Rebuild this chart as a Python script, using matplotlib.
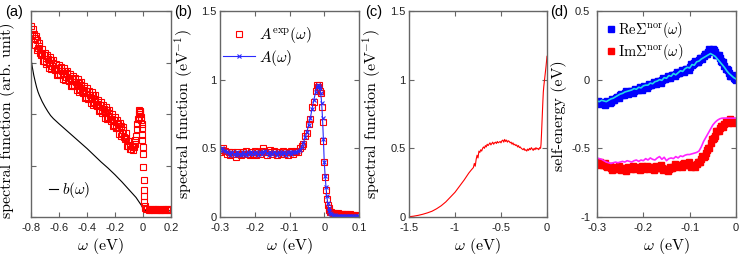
"""四联图：实验谱函数、拟合谱函数与自能 (a)-(d)。"""
from __future__ import annotations

import matplotlib
matplotlib.use("Agg")
import matplotlib.pyplot as plt
from matplotlib.lines import Line2D

# ---------------- (a) 实验谱 + b(ω) ----------------
A_EXP_X = [
    -0.80, -0.79, -0.78, -0.77, -0.76, -0.75, -0.74, -0.73, -0.72, -0.71,
    -0.70, -0.69, -0.68, -0.67, -0.66, -0.65, -0.64, -0.63, -0.62, -0.61,
    -0.60, -0.59, -0.58, -0.57, -0.56, -0.55, -0.54, -0.53, -0.52, -0.51,
    -0.50, -0.49, -0.48, -0.47, -0.46, -0.45, -0.44, -0.43, -0.42, -0.41,
    -0.40, -0.39, -0.38, -0.37, -0.36, -0.35, -0.34, -0.33, -0.32, -0.31,
    -0.30, -0.29, -0.28, -0.27, -0.26, -0.25, -0.24, -0.23, -0.22, -0.21,
    -0.20, -0.19, -0.18, -0.17, -0.16, -0.15, -0.14, -0.13, -0.12, -0.11,
    -0.10, -0.09, -0.08, -0.07,
    -0.065, -0.06, -0.055, -0.05, -0.045, -0.04, -0.035, -0.03, -0.025, -0.02,
    -0.015, -0.01, -0.008, -0.006, -0.004, -0.002, 0.0, 0.002, 0.004, 0.006,
    0.008, 0.010, 0.013, 0.016, 0.020,
    0.03, 0.04, 0.05, 0.06, 0.07, 0.08, 0.09, 0.10, 0.11, 0.12,
    0.13, 0.14, 0.15, 0.16, 0.17, 0.18, 0.19, 0.20,
]
A_EXP_Y = [
    3.70, 3.52, 3.56, 3.34, 3.44, 3.28, 3.37, 3.14, 3.17, 3.03,
    3.19, 2.98, 3.06, 2.89, 3.05, 2.93, 3.05, 2.85, 2.90, 2.78,
    2.95, 2.75, 2.84, 2.68, 2.84, 2.72, 2.84, 2.64, 2.69, 2.57,
    2.74, 2.54, 2.62, 2.46, 2.61, 2.49, 2.62, 2.41, 2.46, 2.33,
    2.50, 2.29, 2.37, 2.21, 2.36, 2.23, 2.36, 2.15, 2.19, 2.07,
    2.23, 2.02, 2.10, 1.93, 2.08, 1.95, 2.08, 1.87, 1.91, 1.78,
    1.94, 1.72, 1.80, 1.62, 1.77, 1.63, 1.74, 1.51, 1.53, 1.38,
    1.48, 1.33, 1.38, 1.30,
    1.36, 1.42, 1.50, 1.58, 1.70, 1.80, 1.90, 2.00, 2.06, 2.03,
    1.95, 1.80, 1.72, 1.60, 1.49, 1.35, 1.22, 0.98, 0.72, 0.53,
    0.40, 0.30, 0.22, 0.18, 0.16,
    0.15, 0.13, 0.16, 0.14, 0.15, 0.13, 0.15, 0.14, 0.16, 0.14,
    0.13, 0.15, 0.14, 0.16, 0.13, 0.15, 0.14, 0.15,
]
# 同一组数据的中间点（使条带更致密）
A_EXP_X2 = [
    -0.795, -0.785, -0.775, -0.765, -0.755, -0.745, -0.735, -0.725, -0.715, -0.705,
    -0.695, -0.685, -0.675, -0.665, -0.655, -0.645, -0.635, -0.625, -0.615, -0.605,
    -0.595, -0.585, -0.575, -0.565, -0.555, -0.545, -0.535, -0.525, -0.515, -0.505,
    -0.495, -0.485, -0.475, -0.465, -0.455, -0.445, -0.435, -0.425, -0.415, -0.405,
    -0.395, -0.385, -0.375, -0.365, -0.355, -0.345, -0.335, -0.325, -0.315, -0.305,
    -0.295, -0.285, -0.275, -0.265, -0.255, -0.245, -0.235, -0.225, -0.215, -0.205,
    -0.195, -0.185, -0.175, -0.165, -0.155, -0.145, -0.135, -0.125, -0.115, -0.105,
    -0.095, -0.085, -0.075, -0.032, -0.028, -0.022, -0.012,
]
A_EXP_Y2 = [
    3.56, 3.65, 3.47, 3.52, 3.24, 3.33, 3.18, 3.26, 3.02, 3.14,
    3.01, 3.14, 3.00, 3.10, 2.87, 3.00, 2.87, 2.98, 2.76, 2.89,
    2.77, 2.91, 2.78, 2.89, 2.66, 2.79, 2.66, 2.77, 2.55, 2.68,
    2.56, 2.70, 2.56, 2.67, 2.43, 2.56, 2.44, 2.54, 2.32, 2.44,
    2.32, 2.45, 2.31, 2.42, 2.18, 2.30, 2.18, 2.28, 2.05, 2.18,
    2.05, 2.18, 2.04, 2.14, 1.90, 2.02, 1.90, 2.00, 1.77, 1.89,
    1.75, 1.88, 1.73, 1.83, 1.58, 1.69, 1.55, 1.63, 1.38, 1.48,
    1.40, 1.33, 1.36, 1.95, 2.08, 2.00, 1.88,
]
BG_X = [-0.80, -0.79, -0.78, -0.77, -0.76, -0.75, -0.74, -0.72, -0.70, -0.68,
        -0.66, -0.64, -0.62, -0.60, -0.55, -0.50, -0.45, -0.40, -0.35, -0.30,
        -0.25, -0.20, -0.15, -0.10, -0.05, -0.03, -0.01, 0.00, 0.01, 0.02, 0.20]
BG_Y = [3.07, 2.90, 2.75, 2.63, 2.52, 2.43, 2.36, 2.24, 2.14, 2.05,
        1.97, 1.91, 1.86, 1.81, 1.69, 1.57, 1.45, 1.33, 1.20, 1.07,
        0.95, 0.82, 0.68, 0.53, 0.38, 0.30, 0.22, 0.16, 0.13, 0.12, 0.12]

# ---------------- (b) A_exp 与 A(ω) ----------------
B_X = [
    -0.300, -0.295, -0.290, -0.285, -0.280, -0.275, -0.270, -0.265, -0.260, -0.255,
    -0.250, -0.245, -0.240, -0.235, -0.230, -0.225, -0.220, -0.215, -0.210, -0.205,
    -0.200, -0.195, -0.190, -0.185, -0.180, -0.175, -0.170, -0.165, -0.160, -0.155,
    -0.150, -0.145, -0.140, -0.135, -0.130, -0.125, -0.120, -0.115, -0.110, -0.105,
    -0.100, -0.095, -0.090, -0.085, -0.080, -0.075, -0.070, -0.065, -0.060, -0.055,
    -0.050, -0.045, -0.040, -0.035, -0.030, -0.025, -0.020,
    -0.0175, -0.015, -0.0125, -0.010, -0.0075, -0.005, -0.0025, 0.0,
    0.0025, 0.005, 0.0075, 0.010, 0.0125, 0.015, 0.0175, 0.020,
    0.025, 0.030, 0.035, 0.040, 0.045, 0.050, 0.055, 0.060,
    0.065, 0.070, 0.075, 0.080, 0.085, 0.090, 0.095, 0.100,
]
B_EXP_Y = [
    0.47, 0.49, 0.50, 0.48, 0.46, 0.47, 0.45, 0.47, 0.46, 0.44,
    0.47, 0.46, 0.45, 0.47, 0.46, 0.48, 0.46, 0.45, 0.47, 0.46,
    0.48, 0.45, 0.47, 0.46, 0.48, 0.50, 0.47, 0.45, 0.47, 0.49,
    0.46, 0.48, 0.47, 0.45, 0.47, 0.46, 0.48, 0.46, 0.47, 0.45,
    0.47, 0.48, 0.46, 0.47, 0.48, 0.47, 0.50, 0.52, 0.53, 0.59,
    0.61, 0.68, 0.71, 0.80, 0.84, 0.92, 0.96,
    0.95, 0.96, 0.92, 0.90, 0.80, 0.69, 0.55, 0.40,
    0.29, 0.20, 0.13, 0.09, 0.065, 0.05, 0.04, 0.035,
    0.03, 0.03, 0.025, 0.03, 0.025, 0.025, 0.02, 0.02,
    0.02, 0.015, 0.02, 0.015, 0.015, 0.01, 0.015, 0.01,
]
B_FIT_Y = [
    0.49, 0.50, 0.49, 0.48, 0.47, 0.465, 0.455, 0.47, 0.46, 0.455,
    0.47, 0.46, 0.455, 0.47, 0.46, 0.455, 0.47, 0.46, 0.475, 0.46,
    0.47, 0.465, 0.455, 0.47, 0.46, 0.475, 0.48, 0.465, 0.455, 0.47,
    0.46, 0.475, 0.465, 0.455, 0.47, 0.46, 0.475, 0.465, 0.455, 0.47,
    0.475, 0.46, 0.47, 0.475, 0.47, 0.48, 0.49, 0.51, 0.54, 0.58,
    0.62, 0.67, 0.72, 0.79, 0.85, 0.91, 0.95,
    0.96, 0.955, 0.94, 0.90, 0.83, 0.72, 0.57, 0.40,
    0.30, 0.22, 0.15, 0.10, 0.065, 0.045, 0.03, 0.02,
    0.015, 0.012, 0.010, 0.008, 0.007, 0.006, 0.006, 0.005,
    0.005, 0.005, 0.004, 0.004, 0.004, 0.004, 0.004, 0.004,
]

# ---------------- (c) 谱函数 ----------------
C_X = [
    -1.50, -1.45, -1.40, -1.35, -1.30, -1.25, -1.20, -1.15, -1.10, -1.05,
    -1.00, -0.95, -0.90, -0.85, -0.82, -0.80,
    -0.79, -0.78, -0.77, -0.76, -0.75, -0.74, -0.73, -0.72, -0.71, -0.70,
    -0.69, -0.68, -0.67, -0.66, -0.65, -0.64, -0.63, -0.62, -0.61, -0.60,
    -0.59, -0.58, -0.57, -0.56, -0.55, -0.54, -0.53, -0.52, -0.51, -0.50,
    -0.49, -0.48, -0.47, -0.46, -0.45, -0.44, -0.43, -0.42, -0.41, -0.40,
    -0.39, -0.38, -0.37, -0.36, -0.35, -0.34, -0.33, -0.32, -0.31, -0.30,
    -0.29, -0.28, -0.27, -0.26, -0.25, -0.24, -0.23, -0.22, -0.21, -0.20,
    -0.19, -0.18, -0.17, -0.16, -0.15, -0.14, -0.13, -0.12, -0.11, -0.10,
    -0.09, -0.08, -0.07,
    -0.065, -0.06, -0.055, -0.05, -0.045, -0.04, -0.035, -0.03, -0.02, -0.01, 0.0,
]
C_Y = [
    0.002, 0.006, 0.012, 0.020, 0.030, 0.042, 0.060, 0.082, 0.110, 0.145,
    0.180, 0.225, 0.270, 0.320, 0.345, 0.360,
    0.39, 0.37, 0.42, 0.45, 0.43, 0.48, 0.47, 0.49, 0.48, 0.50,
    0.51, 0.50, 0.52, 0.51, 0.53, 0.52, 0.53, 0.54, 0.525, 0.535,
    0.545, 0.53, 0.54, 0.545, 0.535, 0.55, 0.54, 0.545, 0.55, 0.54,
    0.555, 0.56, 0.545, 0.565, 0.55, 0.56, 0.545, 0.555, 0.55, 0.54,
    0.545, 0.53, 0.54, 0.525, 0.53, 0.52, 0.525, 0.51, 0.52, 0.505,
    0.51, 0.50, 0.495, 0.49, 0.50, 0.485, 0.49, 0.48, 0.495, 0.485,
    0.50, 0.49, 0.505, 0.495, 0.485, 0.50, 0.49, 0.505, 0.495, 0.50,
    0.49, 0.505, 0.50,
    0.53, 0.60, 0.68, 0.76, 0.84, 0.91, 0.95, 0.98, 1.04, 1.10, 1.17,
]

# ---------------- (d) 自能 ----------------
D_X = [
    -0.300, -0.295, -0.290, -0.285, -0.280, -0.275, -0.270, -0.265, -0.260, -0.255,
    -0.250, -0.245, -0.240, -0.235, -0.230, -0.225, -0.220, -0.215, -0.210, -0.205,
    -0.200, -0.195, -0.190, -0.185, -0.180, -0.175, -0.170, -0.165, -0.160, -0.155,
    -0.150, -0.145, -0.140, -0.135, -0.130, -0.125, -0.120, -0.115, -0.110, -0.105,
    -0.100, -0.095, -0.090, -0.085, -0.080, -0.075, -0.070, -0.065, -0.060, -0.055,
    -0.050, -0.045, -0.040, -0.035, -0.030, -0.025, -0.020, -0.015, -0.010, -0.005,
    0.000,
]
RE_SIGMA = [
    -0.165, -0.17, -0.17, -0.17, -0.17, -0.165, -0.16, -0.145, -0.135, -0.125,
    -0.115, -0.11, -0.10, -0.095, -0.09, -0.085, -0.08, -0.075, -0.07, -0.065,
    -0.058, -0.05, -0.045, -0.04, -0.03, -0.025, -0.02, -0.01, -0.005, 0.005,
    0.01, 0.02, 0.025, 0.035, 0.04, 0.05, 0.055, 0.065, 0.07, 0.08,
    0.095, 0.11, 0.12, 0.13, 0.145, 0.16, 0.175, 0.185, 0.20, 0.215,
    0.22, 0.20, 0.18, 0.155, 0.13, 0.10, 0.075, 0.05, 0.03, 0.015,
    0.0,
]
RE_SIGMA_FIT = [
    -0.155, -0.16, -0.15, -0.155, -0.16, -0.15, -0.14, -0.135, -0.125, -0.115,
    -0.105, -0.10, -0.09, -0.085, -0.08, -0.075, -0.065, -0.07, -0.055, -0.06,
    -0.045, -0.04, -0.04, -0.025, -0.03, -0.015, -0.01, 0.0, -0.005, 0.015,
    0.01, 0.03, 0.025, 0.045, 0.035, 0.05, 0.065, 0.06, 0.08, 0.09,
    0.085, 0.11, 0.105, 0.13, 0.135, 0.15, 0.16, 0.17, 0.18, 0.19,
    0.18, 0.17, 0.15, 0.13, 0.11, 0.09, 0.065, 0.045, 0.03, 0.015,
    0.005,
]
IM_SIGMA = [
    -0.60, -0.61, -0.615, -0.62, -0.625, -0.63, -0.64, -0.645, -0.645, -0.65,
    -0.645, -0.65, -0.65, -0.645, -0.645, -0.64, -0.645, -0.64, -0.64, -0.645,
    -0.64, -0.645, -0.64, -0.635, -0.64, -0.645, -0.64, -0.635, -0.645, -0.65,
    -0.655, -0.65, -0.645, -0.635, -0.63, -0.625, -0.62, -0.615, -0.62, -0.615,
    -0.62, -0.625, -0.63, -0.615, -0.60, -0.58, -0.56, -0.535, -0.50, -0.46,
    -0.43, -0.41, -0.375, -0.355, -0.335, -0.32, -0.31, -0.305, -0.305, -0.305,
    -0.305,
]
IM_SIGMA_FIT = [
    -0.57, -0.575, -0.58, -0.59, -0.60, -0.605, -0.61, -0.605, -0.60, -0.605,
    -0.60, -0.595, -0.60, -0.59, -0.595, -0.60, -0.59, -0.585, -0.595, -0.585,
    -0.59, -0.575, -0.585, -0.57, -0.58, -0.585, -0.57, -0.56, -0.58, -0.565,
    -0.59, -0.575, -0.57, -0.575, -0.56, -0.57, -0.555, -0.56, -0.55, -0.545,
    -0.545, -0.54, -0.535, -0.53, -0.52, -0.49, -0.45, -0.42, -0.39, -0.36,
    -0.33, -0.31, -0.295, -0.285, -0.28, -0.28, -0.28, -0.28, -0.28, -0.28,
    -0.28,
]
# 自能数据的中间点
D_X2 = [
    -0.2975, -0.2925, -0.2875, -0.2825, -0.2775, -0.2725, -0.2675, -0.2625, -0.2575, -0.2525,
    -0.2475, -0.2425, -0.2375, -0.2325, -0.2275, -0.2225, -0.2175, -0.2125, -0.2075, -0.2025,
    -0.1975, -0.1925, -0.1875, -0.1825, -0.1775, -0.1725, -0.1675, -0.1625, -0.1575, -0.1525,
    -0.1475, -0.1425, -0.1375, -0.1325, -0.1275, -0.1225, -0.1175, -0.1125, -0.1075, -0.1025,
    -0.0975, -0.0925, -0.0875, -0.0825, -0.0775, -0.0725, -0.0675, -0.0625, -0.0575, -0.0525,
    -0.0475, -0.0425, -0.0375, -0.0325, -0.0275, -0.0225, -0.0175, -0.0125, -0.0075, -0.0025,
]
RE_SIGMA2 = [
    -0.156, -0.18, -0.164, -0.184, -0.158, -0.167, -0.141, -0.15, -0.124, -0.134,
    -0.103, -0.109, -0.086, -0.103, -0.082, -0.097, -0.068, -0.077, -0.056, -0.072,
    -0.048, -0.062, -0.033, -0.039, -0.016, -0.033, -0.009, -0.022, 0.010, 0.004,
    0.027, 0.013, 0.036, 0.024, 0.055, 0.049, 0.072, 0.058, 0.081, 0.074,
    0.113, 0.111, 0.137, 0.128, 0.159, 0.154, 0.19, 0.189, 0.22, 0.208,
    0.216, 0.176, 0.178, 0.139, 0.127, 0.078, 0.069, 0.026, 0.033, 0.004,
]
IM_SIGMA2 = [
    -0.62, -0.60, -0.624, -0.607, -0.638, -0.63, -0.658, -0.633, -0.654, -0.632,
    -0.658, -0.645, -0.663, -0.633, -0.649, -0.627, -0.653, -0.635, -0.658, -0.631,
    -0.649, -0.627, -0.648, -0.633, -0.658, -0.631, -0.644, -0.624, -0.658, -0.648,
    -0.668, -0.636, -0.646, -0.617, -0.638, -0.618, -0.633, -0.606, -0.624, -0.602,
    -0.633, -0.623, -0.638, -0.596, -0.596, -0.554, -0.558, -0.513, -0.495, -0.433,
    -0.426, -0.377, -0.375, -0.34, -0.343, -0.303, -0.314, -0.289, -0.315, -0.30,
]

# 刻度
A_XTICKS = [-0.8, -0.6, -0.4, -0.2, 0.0, 0.2]
A_XLABELS = ["-0.8", "-0.6", "-0.4", "-0.2", "0", "0.2"]
B_XTICKS = [-0.3, -0.2, -0.1, 0.0, 0.1]
B_XLABELS = ["-0.3", "-0.2", "-0.1", "0", "0.1"]
C_XTICKS = [-1.5, -1.0, -0.5, 0.0]
C_XLABELS = ["-1.5", "-1", "-0.5", "0"]
D_XTICKS = [-0.3, -0.2, -0.1, 0.0]
D_XLABELS = ["-0.3", "-0.2", "-0.1", "0"]
SPEC_YTICKS = [0.0, 0.5, 1.0, 1.5]
SPEC_YLABELS = ["0", "0.5", "1", "1.5"]
D_YTICKS = [-1.0, -0.5, 0.0, 0.5]
D_YLABELS = ["-1", "-0.5", "0", "0.5"]

SPINE = "#666666"
SERIF = "cmr10"
SANS = "Liberation Sans"
W, H = 747, 257


def style_axes(ax, xlim, ylim, xticks, xlabels, yticks, ylabels, ypad=2.5):
    """gnuplot 风格：灰色边框，刻度朝内并镜像。"""
    ax.set_xlim(*xlim)
    ax.set_ylim(*ylim)
    ax.set_xticks(xticks, xlabels)
    ax.set_yticks(yticks, ylabels)
    for s in ax.spines.values():
        s.set_color(SPINE)
        s.set_linewidth(1.0)
    ax.tick_params(direction="in", top=True, right=True, length=3.5, width=0.8,
                   color=SPINE, labelsize=8, labelfontfamily=SANS, labelcolor="#222222")
    ax.tick_params(axis="x", pad=4)
    ax.tick_params(axis="y", pad=ypad)
    ax.set_xlabel(r"$\omega$ (eV)", fontsize=11.5, family=SERIF)
    ax.xaxis.set_label_coords(0.5, -0.09)


def add_axes(fig, x0, x1, y0=11, y1=217):
    return fig.add_axes([x0 / W, 1 - y1 / H, (x1 - x0) / W, (y1 - y0) / H])


def main() -> None:
    plt.rcParams["font.family"] = [SANS, "DejaVu Sans"]
    plt.rcParams["mathtext.fontset"] = "cm"
    plt.rcParams["axes.unicode_minus"] = False

    fig = plt.figure(figsize=(W / 100, H / 100), dpi=100)

    # (a)
    ax = add_axes(fig, 31, 171)
    ax.plot(BG_X, BG_Y, color="black", lw=0.8, label=r"$b(\omega)$")
    for xs, ys in [(A_EXP_X, A_EXP_Y), (A_EXP_X2, A_EXP_Y2)]:
        ax.plot(xs, ys, ls="none", marker="s", ms=4.2, mfc="none", mec="red", mew=0.8)
    style_axes(ax, (-0.8, 0.2), (0, 4), A_XTICKS, A_XLABELS, [0, 1, 2, 3, 4], [""] * 5)
    ax.set_ylabel("spectral function (arb. unit)", fontsize=11.5, family=SERIF)
    ax.yaxis.set_label_coords(-0.115, 0.47)
    ax.legend(loc="center left", bbox_to_anchor=(0.125, 0.13), frameon=False,
              handlelength=0.6, handletextpad=0.3, borderpad=0, borderaxespad=0,
              prop={"size": 11})

    # (b)
    ax = add_axes(fig, 220, 359)
    ax.plot(B_X, B_EXP_Y, ls="none", marker="s", ms=4.2, mfc="none", mec="red",
            mew=0.8, label=r"$A^{\rm exp}(\omega)$")
    ax.plot(B_X, B_FIT_Y, color="#2a2aff", lw=0.8, marker="x", ms=3.5, mew=0.8,
            label=r"$A(\omega)$")
    style_axes(ax, (-0.3, 0.1), (0, 1.5), B_XTICKS, B_XLABELS, SPEC_YTICKS, SPEC_YLABELS)
    ax.set_ylabel(r"spectral function (eV$^{-1}$)", fontsize=11.5, family=SERIF)
    ax.yaxis.set_label_coords(-0.18, 0.5)
    ax.legend(loc="upper left", bbox_to_anchor=(0.02, 0.93), frameon=False,
              handlelength=2.1, handletextpad=0.25, borderpad=0, borderaxespad=0,
              labelspacing=0.15, prop={"size": 11})

    # (c)
    ax = add_axes(fig, 409, 547)
    ax.plot(C_X, C_Y, color="red", lw=0.8)
    style_axes(ax, (-1.5, 0.0), (0, 1.5), C_XTICKS, C_XLABELS, SPEC_YTICKS, SPEC_YLABELS)
    ax.set_ylabel(r"spectral function (eV$^{-1}$)", fontsize=11.5, family=SERIF)
    ax.yaxis.set_label_coords(-0.188, 0.5)

    # (d)
    ax = add_axes(fig, 597, 736)
    for xs, re, im in [(D_X, RE_SIGMA, IM_SIGMA), (D_X2, RE_SIGMA2, IM_SIGMA2)]:
        ax.plot(xs, re, ls="none", marker="s", ms=4.5, color="blue")
        ax.plot(xs, im, ls="none", marker="s", ms=4.5, color="red")
    ax.plot(D_X, RE_SIGMA_FIT, color="#22d8e8", lw=1.2)
    ax.plot(D_X, IM_SIGMA_FIT, color="#ff22ff", lw=1.2)
    style_axes(ax, (-0.3, 0.0), (-1, 0.5), D_XTICKS, D_XLABELS, D_YTICKS, D_YLABELS, ypad=5)
    ax.set_ylabel("self-energy (eV)", fontsize=11.5, family=SERIF)
    ax.yaxis.set_label_coords(-0.216, 0.49)
    handles = [Line2D([], [], ls="none", marker="s", ms=4.5, color="blue"),
               Line2D([], [], ls="none", marker="s", ms=4.5, color="red")]
    labels = [r"$\mathrm{Re}\Sigma^{\rm nor}(\omega)$", r"$\mathrm{Im}\Sigma^{\rm nor}(\omega)$"]
    ax.legend(handles, labels, loc="upper left", bbox_to_anchor=(0.07, 0.955),
              frameon=False, handlelength=0.6, handletextpad=0.2, borderpad=0,
              borderaxespad=0, labelspacing=0.1, prop={"size": 10.5})

    # 面板标号
    for x_right, tag in [(23, "(a)"), (192, "(b)"), (382, "(c)"), (568, "(d)")]:
        fig.text(x_right / W, 1 - 12 / H, tag, ha="right", va="center", fontsize=10.5,
                 family=SANS)

    fig.savefig("out.png", dpi=100)
    plt.close(fig)


if __name__ == "__main__":
    main()
